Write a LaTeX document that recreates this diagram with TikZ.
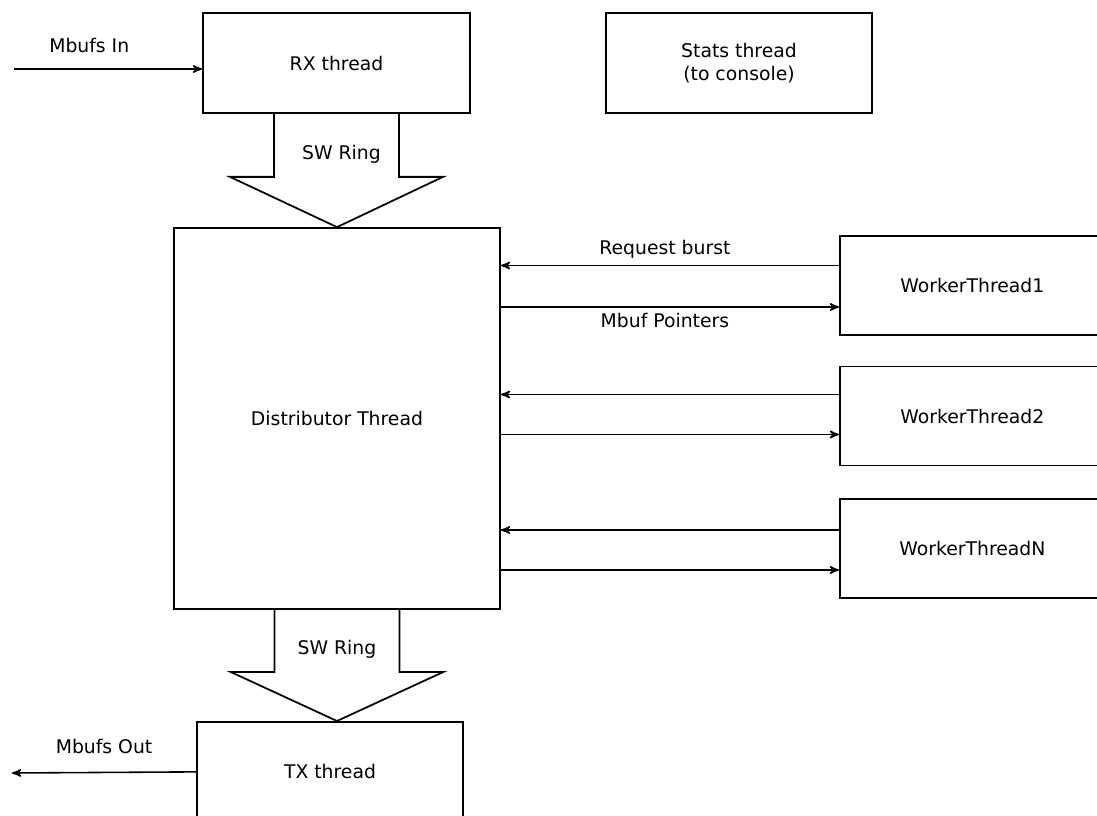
\documentclass[tikz,border=0pt]{standalone}
\usepackage{fontspec}
\setmainfont{DejaVu Sans}
\usetikzlibrary{calc,positioning,arrows}

\begin{document}
\begin{tikzpicture}[box/.style={draw,line width=1pt,minimum width=5.34cm,minimum height=2cm,align=center},
                    wbox/.style={box,minimum width=5.3cm,minimum height=1.98cm},
                    link/.style={->,>=stealth',line width=0.9pt},
                    every node/.style={font=\fontsize{10.7}{13.5}\selectfont}]
                                \useasboundingbox (0,0) rectangle (21.94,-16.32);
                                \node[box] (rx) at (6.73,-1.26) {RX thread};
                                \node[box,minimum width=5.32cm] (stats) at (14.78,-1.26) {Stats thread\\(to console)};
                                \node[box,minimum width=6.52cm,minimum height=7.62cm] (dist) at (6.74,-8.37) {Distributor Thread};
                                \node[wbox,anchor=west] (w1) at (16.78,-5.71) {WorkerThread1};
                                \node[wbox,anchor=west] (w2) at (16.78,-8.32) {WorkerThread2};
                                \node[wbox,anchor=west] (wn) at (16.78,-10.97) {WorkerThreadN};
                                \node[box,minimum width=5.32cm,anchor=north] (tx) at (6.6,-14.42) {TX thread};
                                \coordinate (inpt) at (0.28,-1.38);
                                \coordinate (outpt) at (0.24,-15.46);

                                % rings
                                \draw[line width=1pt] ($(rx.south)+(-1.25,0)$) -- ++(0,-1.26) -- ++(-0.88,0) -- (dist.north)
                                    -- ($(rx.south)+(2.13,-1.26)$) -- ++(-0.88,0) -- ++(0,1.26);
                                \node (ring1) at ($(rx.south)+(0.1,-0.8)$) {SW Ring};
                                \draw[line width=1pt] ($(dist.south)+(-1.25,0)$) -- ++(0,-1.24) -- ++(-0.88,0) -- (dist.south |- tx.north)
                                    -- ($(dist.south)+(2.13,-1.24)$) -- ++(-0.88,0) -- ++(0,1.24);
                                \node (ring2) at ($(dist.south)+(0,-0.78)$) {SW Ring};

                                \draw[link] (inpt) -- node[above=2mm,pos=0.4] {Mbufs In} (inpt -| rx.west);
                                \draw[link] (tx.west) -- node[above=2.5mm] {Mbufs Out} (outpt);

                                \draw[link] ([yshift=4mm]w1.west) -- node[above,xshift=-1mm] {Request burst} ([yshift=4mm]w1.west -| dist.east);
                                \draw[link] ([yshift=-4.3mm]w1.west -| dist.east) -- node[below,xshift=-1mm] {Mbuf Pointers} ([yshift=-4.3mm]w1.west);
                                \draw[link] ([yshift=4.3mm]w2.west) -- ([yshift=4.3mm]w2.west -| dist.east);
                                \draw[link] ([yshift=-3.7mm]w2.west -| dist.east) -- ([yshift=-3.7mm]w2.west);
                                \draw[link] ([yshift=3.7mm]wn.west) -- ([yshift=3.7mm]wn.west -| dist.east);
                                \draw[link] ([yshift=-4.3mm]wn.west -| dist.east) -- ([yshift=-4.3mm]wn.west);
                            \end{tikzpicture}
\end{document}
